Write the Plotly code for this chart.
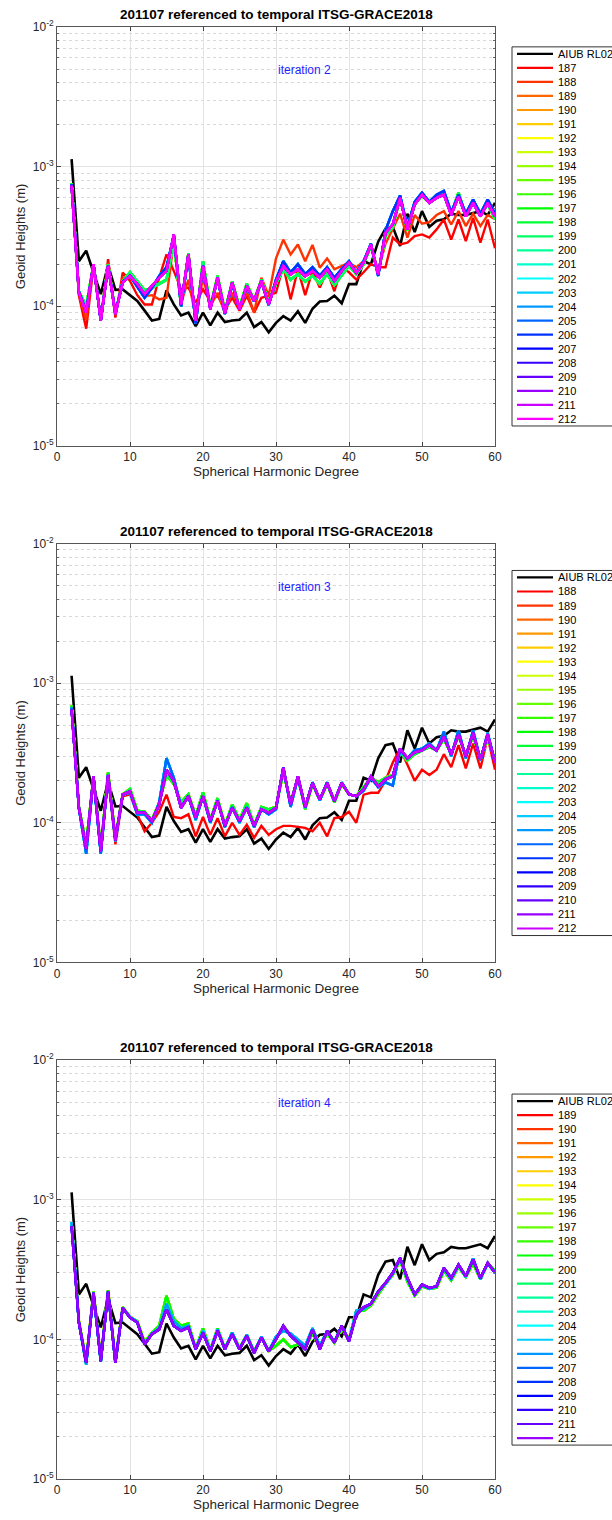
import colorsys
import plotly.graph_objects as go

# ---------------- data ----------------
DEGREES = list(range(2, 61))

AIUB_RL02 = [1.13e-3, 2.1e-4, 2.5e-4, 1.75e-4, 1.22e-4, 1.97e-4, 1.31e-4, 1.32e-4, 1.19e-4, 1.09e-4,
             9.3e-5, 7.9e-5, 8.1e-5, 1.3e-4, 1.03e-4, 8.6e-5, 9.0e-5, 7.2e-5, 9.0e-5, 7.3e-5,
             9.0e-5, 7.7e-5, 7.9e-5, 8.0e-5, 9.0e-5, 7.1e-5, 7.7e-5, 6.5e-5, 7.6e-5, 8.5e-5,
             7.9e-5, 9.2e-5, 7.6e-5, 9.6e-5, 1.08e-4, 1.09e-4, 1.19e-4, 1.05e-4, 1.44e-4, 1.44e-4,
             2.1e-4, 2.0e-4, 2.9e-4, 3.6e-4, 3.7e-4, 2.7e-4, 4.6e-4, 3.4e-4, 4.8e-4, 3.7e-4,
             4.1e-4, 4.2e-4, 4.6e-4, 4.5e-4, 4.5e-4, 4.65e-4, 4.8e-4, 4.5e-4, 5.5e-4]

# iteration 2 panel
IT2_S187 = [7.2e-4, 1.19e-4, 6.9e-5, 1.94e-4, 7.9e-5, 2.17e-4, 8.3e-5, 1.74e-4, 1.52e-4, 1.2e-4,
            1.03e-4, 1.03e-4, 1.6e-4, 2.35e-4, 1.79e-4, 1.32e-4, 1.36e-4, 1.06e-4, 1.32e-4, 1.09e-4,
            1.19e-4, 9.5e-5, 1.15e-4, 9.3e-5, 1.19e-4, 9.0e-5, 1.15e-4, 1.19e-4, 1.25e-4, 1.94e-4,
            1.12e-4, 1.84e-4, 1.2e-4, 1.79e-4, 1.36e-4, 1.79e-4, 1.28e-4, 1.89e-4, 1.75e-4, 1.55e-4,
            1.75e-4, 2.0e-4, 1.9e-4, 1.9e-4, 3.1e-4, 2.77e-4, 2.85e-4, 3.18e-4, 3.27e-4, 3.1e-4,
            3.55e-4, 4.18e-4, 3.0e-4, 4.18e-4, 2.93e-4, 4.3e-4, 2.85e-4, 4.18e-4, 2.6e-4]
IT2_S188 = [7.3e-4, 1.22e-4, 8.0e-5, 1.97e-4, 8.0e-5, 2.05e-4, 8.6e-5, 1.6e-4, 1.6e-4, 1.42e-4,
            1.18e-4, 1.2e-4, 1.12e-4, 1.15e-4, 2.9e-4, 1.05e-4, 1.55e-4, 8.3e-5, 1.6e-4, 1.0e-4,
            1.25e-4, 8.9e-5, 1.25e-4, 9.5e-5, 1.28e-4, 9.0e-5, 1.6e-4, 1.19e-4, 2.2e-4, 3.0e-4,
            2.35e-4, 2.77e-4, 2.1e-4, 2.75e-4, 1.89e-4, 2.2e-4, 1.84e-4, 1.94e-4, 2.05e-4, 1.9e-4,
            2.1e-4, 2.7e-4, 1.8e-4, 2.8e-4, 3.6e-4, 4.6e-4, 3.1e-4, 4.5e-4, 3.9e-4, 4.0e-4,
            4.5e-4, 4.8e-4, 3.85e-4, 4.8e-4, 3.75e-4, 4.6e-4, 3.75e-4, 4.5e-4, 4.2e-4]
IT2_WARM = [7.6e-4, 1.28e-4, 1.0e-4, 2.0e-4, 8.0e-5, 2.0e-4, 9.0e-5, 1.5e-4, 1.75e-4, 1.5e-4,
            1.3e-4, 1.35e-4, 1.45e-4, 1.55e-4, 2.9e-4, 1.0e-4, 2.4e-4, 7.6e-5, 2.1e-4, 9.8e-5,
            1.65e-4, 9.2e-5, 1.5e-4, 9.8e-5, 1.45e-4, 1.1e-4, 1.55e-4, 1.05e-4, 1.45e-4, 1.85e-4,
            1.55e-4, 1.7e-4, 1.5e-4, 1.65e-4, 1.45e-4, 1.7e-4, 1.42e-4, 1.65e-4, 1.95e-4, 1.7e-4,
            2.0e-4, 2.7e-4, 1.7e-4, 3.2e-4, 3.7e-4, 6.0e-4, 3.5e-4, 5.4e-4, 6.2e-4, 5.5e-4,
            6.2e-4, 6.4e-4, 4.6e-4, 6.5e-4, 4.5e-4, 5.6e-4, 4.5e-4, 5.4e-4, 4.2e-4]
IT2_COOL = [7.5e-4, 1.27e-4, 9.2e-5, 2.0e-4, 7.9e-5, 1.95e-4, 8.9e-5, 1.5e-4, 1.65e-4, 1.38e-4,
            1.15e-4, 1.35e-4, 1.65e-4, 1.9e-4, 3.2e-4, 1.0e-4, 2.3e-4, 7.5e-5, 1.95e-4, 9.7e-5,
            1.58e-4, 8.8e-5, 1.45e-4, 9.5e-5, 1.38e-4, 1.08e-4, 1.5e-4, 1.02e-4, 1.55e-4, 2.1e-4,
            1.75e-4, 2.0e-4, 1.7e-4, 1.9e-4, 1.65e-4, 1.9e-4, 1.6e-4, 1.85e-4, 2.1e-4, 1.75e-4,
            2.1e-4, 2.8e-4, 1.65e-4, 3.5e-4, 4.8e-4, 6.2e-4, 3.7e-4, 5.6e-4, 6.5e-4, 5.6e-4,
            6.3e-4, 6.7e-4, 4.7e-4, 6.3e-4, 4.6e-4, 5.8e-4, 4.6e-4, 5.8e-4, 4.6e-4]
IT2_VIOLET = [7.3e-4, 1.25e-4, 9.0e-5, 2.0e-4, 7.9e-5, 1.94e-4, 8.8e-5, 1.48e-4, 1.65e-4, 1.44e-4,
              1.22e-4, 1.4e-4, 1.6e-4, 1.79e-4, 3.27e-4, 1.03e-4, 2.35e-4, 7.9e-5, 1.94e-4, 9.5e-5,
              1.6e-4, 8.9e-5, 1.48e-4, 9.5e-5, 1.4e-4, 1.09e-4, 1.52e-4, 1.03e-4, 1.5e-4, 1.94e-4,
              1.69e-4, 1.84e-4, 1.64e-4, 1.79e-4, 1.6e-4, 1.84e-4, 1.52e-4, 1.79e-4, 2.05e-4, 1.74e-4,
              2.05e-4, 2.77e-4, 1.69e-4, 3.36e-4, 3.86e-4, 5.97e-4, 3.55e-4, 5.36e-4, 6.3e-4, 5.5e-4,
              5.97e-4, 6.3e-4, 4.5e-4, 6.1e-4, 4.4e-4, 5.5e-4, 4.4e-4, 5.5e-4, 4.4e-4]

# iteration 3 panel
IT3_S188 = [6.6e-4, 1.25e-4, 7.0e-5, 2.1e-4, 6.5e-5, 2.15e-4, 7.0e-5, 1.55e-4, 1.6e-4, 1.15e-4,
            8.7e-5, 1.0e-4, 1.2e-4, 1.59e-4, 1.1e-4, 1.08e-4, 1.15e-4, 8.0e-5, 1.1e-4, 8.2e-5,
            1.08e-4, 8.0e-5, 1.0e-4, 8.2e-5, 9.7e-5, 7.8e-5, 9.5e-5, 8.2e-5, 9.0e-5, 9.5e-5,
            9.5e-5, 9.3e-5, 9.2e-5, 8.7e-5, 1.0e-4, 8.0e-5, 1.08e-4, 1.1e-4, 1.2e-4, 1.0e-4,
            1.59e-4, 1.64e-4, 1.64e-4, 2.0e-4, 2.7e-4, 3.4e-4, 2.6e-4, 2.0e-4, 2.4e-4, 2.2e-4,
            2.4e-4, 3.1e-4, 2.5e-4, 3.6e-4, 2.45e-4, 3.7e-4, 2.45e-4, 4.1e-4, 2.4e-4]
IT3_WARM = [6.9e-4, 1.3e-4, 7.0e-5, 2.15e-4, 6.5e-5, 2.3e-4, 7.8e-5, 1.6e-4, 1.75e-4, 1.22e-4,
            1.2e-4, 1.05e-4, 1.4e-4, 2.2e-4, 1.9e-4, 1.4e-4, 1.6e-4, 1.12e-4, 1.65e-4, 1.05e-4,
            1.5e-4, 9.6e-5, 1.35e-4, 1.05e-4, 1.38e-4, 9.6e-5, 1.3e-4, 1.25e-4, 1.3e-4, 2.3e-4,
            1.4e-4, 2.1e-4, 1.25e-4, 1.9e-4, 1.45e-4, 1.9e-4, 1.4e-4, 1.9e-4, 1.6e-4, 1.55e-4,
            1.8e-4, 2.1e-4, 1.95e-4, 2.1e-4, 2.2e-4, 3.2e-4, 2.8e-4, 3.1e-4, 3.3e-4, 3.5e-4,
            3.3e-4, 4.0e-4, 3.1e-4, 4.2e-4, 3.05e-4, 4.2e-4, 2.9e-4, 4.1e-4, 2.8e-4]
IT3_COOL = [6.7e-4, 1.27e-4, 6.0e-5, 2.1e-4, 6.0e-5, 2.2e-4, 7.4e-5, 1.58e-4, 1.65e-4, 1.15e-4,
            1.15e-4, 1.0e-4, 1.4e-4, 2.9e-4, 2.1e-4, 1.3e-4, 1.55e-4, 1.05e-4, 1.55e-4, 1.0e-4,
            1.45e-4, 9.3e-5, 1.3e-4, 1.0e-4, 1.3e-4, 9.3e-5, 1.25e-4, 1.15e-4, 1.25e-4, 2.5e-4,
            1.3e-4, 2.1e-4, 1.28e-4, 1.95e-4, 1.45e-4, 1.95e-4, 1.42e-4, 1.95e-4, 1.6e-4, 1.55e-4,
            1.7e-4, 2.1e-4, 1.8e-4, 1.95e-4, 1.85e-4, 3.3e-4, 2.9e-4, 3.3e-4, 3.4e-4, 3.7e-4,
            3.3e-4, 4.5e-4, 3.0e-4, 4.6e-4, 2.9e-4, 4.6e-4, 2.8e-4, 4.4e-4, 2.7e-4]
IT3_VIOLET = [6.45e-4, 1.28e-4, 6.5e-5, 2.15e-4, 6.2e-5, 2.2e-4, 7.5e-5, 1.59e-4, 1.68e-4, 1.18e-4,
              1.18e-4, 1.03e-4, 1.35e-4, 2.4e-4, 1.99e-4, 1.28e-4, 1.55e-4, 1.09e-4, 1.55e-4, 1.03e-4,
              1.43e-4, 9.5e-5, 1.28e-4, 1.03e-4, 1.28e-4, 9.5e-5, 1.25e-4, 1.18e-4, 1.28e-4, 2.47e-4,
              1.35e-4, 2.15e-4, 1.3e-4, 1.93e-4, 1.47e-4, 1.93e-4, 1.43e-4, 1.93e-4, 1.6e-4, 1.55e-4,
              1.73e-4, 2.15e-4, 1.83e-4, 2.05e-4, 2.15e-4, 3.4e-4, 2.9e-4, 3.2e-4, 3.3e-4, 3.6e-4,
              3.3e-4, 4.15e-4, 3.08e-4, 4.3e-4, 3.0e-4, 4.4e-4, 2.83e-4, 4.3e-4, 2.7e-4]

# iteration 4 panel
IT4_WARM = [6.8e-4, 1.35e-4, 7.0e-5, 2.2e-4, 7.2e-5, 2.25e-4, 7.0e-5, 1.7e-4, 1.45e-4, 1.35e-4,
            9.5e-5, 1.12e-4, 1.25e-4, 2.05e-4, 1.4e-4, 1.25e-4, 1.3e-4, 8.6e-5, 1.2e-4, 8.4e-5,
            1.2e-4, 8.6e-5, 1.12e-4, 8.6e-5, 1.08e-4, 8.2e-5, 1.05e-4, 8.3e-5, 9.0e-5, 1.0e-4,
            8.8e-5, 9.2e-5, 8.8e-5, 1.1e-4, 8.8e-5, 1.1e-4, 9.5e-5, 1.2e-4, 1.0e-4, 1.6e-4,
            1.6e-4, 1.75e-4, 2.1e-4, 2.5e-4, 2.9e-4, 3.7e-4, 2.6e-4, 2.05e-4, 2.4e-4, 2.3e-4,
            2.35e-4, 3.1e-4, 2.65e-4, 3.3e-4, 2.8e-4, 3.5e-4, 2.7e-4, 3.5e-4, 3.1e-4]
IT4_COOL = [6.9e-4, 1.32e-4, 6.6e-5, 2.15e-4, 6.9e-5, 2.2e-4, 6.8e-5, 1.68e-4, 1.45e-4, 1.33e-4,
            9.2e-5, 1.1e-4, 1.2e-4, 1.8e-4, 1.35e-4, 1.2e-4, 1.25e-4, 8.5e-5, 1.15e-4, 8.3e-5,
            1.18e-4, 8.5e-5, 1.12e-4, 8.5e-5, 1.08e-4, 8.1e-5, 1.05e-4, 8.2e-5, 1.05e-4, 1.15e-4,
            1.1e-4, 1.0e-4, 9.0e-5, 1.2e-4, 9.0e-5, 1.15e-4, 9.6e-5, 1.25e-4, 9.8e-5, 1.6e-4,
            1.65e-4, 1.8e-4, 2.2e-4, 2.5e-4, 2.95e-4, 3.8e-4, 2.7e-4, 2.1e-4, 2.45e-4, 2.3e-4,
            2.4e-4, 3.2e-4, 2.7e-4, 3.4e-4, 2.8e-4, 3.8e-4, 2.7e-4, 3.5e-4, 3.0e-4]
IT4_VIOLET = [6.45e-4, 1.32e-4, 6.8e-5, 2.15e-4, 7.0e-5, 2.2e-4, 6.8e-5, 1.68e-4, 1.43e-4, 1.32e-4,
              9.2e-5, 1.09e-4, 1.18e-4, 1.64e-4, 1.25e-4, 1.15e-4, 1.22e-4, 8.5e-5, 1.11e-4, 8.2e-5,
              1.15e-4, 8.5e-5, 1.09e-4, 8.5e-5, 1.06e-4, 8.0e-5, 1.03e-4, 8.2e-5, 1.0e-4, 1.25e-4,
              1.06e-4, 9.5e-5, 8.5e-5, 1.18e-4, 8.5e-5, 1.15e-4, 9.5e-5, 1.25e-4, 9.7e-5, 1.5e-4,
              1.7e-4, 1.8e-4, 2.2e-4, 2.54e-4, 3.0e-4, 3.83e-4, 2.75e-4, 2.1e-4, 2.47e-4, 2.34e-4,
              2.4e-4, 3.25e-4, 2.75e-4, 3.43e-4, 2.83e-4, 3.73e-4, 2.75e-4, 3.53e-4, 3.0e-4]

TITLE = "201107 referenced to temporal ITSG-GRACE2018"
ITERATION_LABELS = ["iteration 2", "iteration 3", "iteration 4"]
SOLUTIONS = [list(range(187, 213)), list(range(188, 213)), list(range(189, 213))]
REF_NAME = "AIUB RL02"

PANEL_SERIES = [
    {187: IT2_S187, 188: IT2_S188, "warm": IT2_WARM, "cool": IT2_COOL, "violet": IT2_VIOLET},
    {188: IT3_S188, "warm": IT3_WARM, "cool": IT3_COOL, "violet": IT3_VIOLET},
    {"warm": IT4_WARM, "cool": IT4_COOL, "violet": IT4_VIOLET},
]


def series_for(panel, sol):
    d = PANEL_SERIES[panel]
    if sol in d:
        return d[sol]
    if sol <= 199:
        return d["warm"]
    if sol <= 206:
        return d["cool"]
    return d["violet"]


def hsv_color(i):
    r, g, b = colorsys.hsv_to_rgb((12.0 * i / 360.0) % 1.0, 1.0, 1.0)
    return "rgb(%d,%d,%d)" % (round(r * 255), round(g * 255), round(b * 255))


# ---------------- layout geometry ----------------
W, H = 612, 1520
AX_L, AX_R = 57, 495          # plot area, in page pixels
AX_TOPS = [27, 545, 1063]
AX_H = 420
ML = AX_L
MT = AX_TOPS[0]
PW = AX_R - AX_L
PH = AX_TOPS[2] + AX_H - AX_TOPS[0]
MR = W - ML - PW
MB = H - MT - PH


def px_x(px):
    return (px - AX_L) / PW


def px_y(py):
    return (AX_TOPS[2] + AX_H - py) / PH


FONT = "Liberation Sans, Arial, Helvetica, sans-serif"
TXT = "#262626"

fig = go.Figure()
shapes = []
annotations = []

minor_vals = []
for e in (-5, -4, -3):
    for m in range(2, 10):
        minor_vals.append(m * 10 ** e)

for p in range(3):
    xa = "x" if p == 0 else "x%d" % (p + 1)
    ya = "y" if p == 0 else "y%d" % (p + 1)
    xkey = "xaxis" if p == 0 else "xaxis%d" % (p + 1)
    ykey = "yaxis" if p == 0 else "yaxis%d" % (p + 1)

    fig.add_trace(go.Scatter(x=DEGREES, y=AIUB_RL02, mode="lines", name=REF_NAME,
                             line=dict(color="black", width=2.6), xaxis=xa, yaxis=ya,
                             showlegend=False))
    for i, sol in enumerate(SOLUTIONS[p]):
        fig.add_trace(go.Scatter(x=DEGREES, y=series_for(p, sol), mode="lines", name=str(sol),
                                 line=dict(color=hsv_color(i), width=2.4), xaxis=xa, yaxis=ya,
                                 showlegend=False))

    top = AX_TOPS[p]
    dom = [px_y(top + AX_H), px_y(top)]
    fig.update_layout(**{
        xkey: dict(domain=[0, 1], anchor=ya, range=[0, 60], tickvals=[0, 10, 20, 30, 40, 50, 60],
                   ticks="inside", ticklen=4, tickcolor="#444", mirror="allticks", showline=True,
                   linecolor="#555", linewidth=1, showgrid=True, gridcolor="#e3e3e3", zeroline=False,
                   tickfont=dict(family=FONT, size=12, color=TXT),
                   title=dict(text="Spherical Harmonic Degree", standoff=1,
                              font=dict(family=FONT, size=13.5, color=TXT))),
        ykey: dict(domain=dom, anchor=xa, type="log", range=[-5, -2],
                   tickvals=[1e-5, 1e-4, 1e-3, 1e-2],
                   ticktext=["10<sup>-5</sup>", "10<sup>-4</sup>", "10<sup>-3</sup>", "10<sup>-2</sup>"],
                   ticks="inside", ticklen=4, tickcolor="#444", mirror="allticks", showline=True,
                   linecolor="#555", linewidth=1, showgrid=True, gridcolor="#e3e3e3", zeroline=False,
                   tickfont=dict(family=FONT, size=12, color=TXT),
                   minor=dict(tickvals=minor_vals, ticks="inside", ticklen=2, tickcolor="#666",
                              showgrid=True, gridcolor="#d8d8d8", griddash="dot"),
                   title=dict(text="Geoid Heights (m)", standoff=4,
                              font=dict(family=FONT, size=13, color=TXT))),
    })

    annotations.append(dict(text="<b>%s</b>" % TITLE, xref="paper", yref="paper",
                            x=px_x((AX_L + AX_R) / 2), y=px_y(top - 3), xanchor="center",
                            yanchor="bottom", showarrow=False,
                            font=dict(family=FONT, size=13.5, color="black")))
    annotations.append(dict(text=ITERATION_LABELS[p], xref=xa, yref=ya, x=30, y=-2.31,
                            xanchor="left", yanchor="middle", showarrow=False,
                            font=dict(family=FONT, size=12, color="#1f1fff")))

    # compact MATLAB-style legend
    names = [REF_NAME] + [str(s) for s in SOLUTIONS[p]]
    colors = ["black"] + [hsv_color(i) for i in range(len(SOLUTIONS[p]))]
    step = 14.08
    lh = len(names) * step
    ltop = top + AX_H / 2 - lh / 2
    shapes.append(dict(type="rect", xref="paper", yref="paper",
                       x0=px_x(512), x1=px_x(650), y0=px_y(ltop), y1=px_y(ltop + lh),
                       line=dict(color="#333", width=1), fillcolor="white", layer="above"))
    for k, (nm, col) in enumerate(zip(names, colors)):
        cy = ltop + 7 + step * k
        shapes.append(dict(type="line", xref="paper", yref="paper",
                           x0=px_x(517), x1=px_x(553), y0=px_y(cy), y1=px_y(cy),
                           line=dict(color=col, width=2.2), layer="above"))
        annotations.append(dict(text=nm, xref="paper", yref="paper", x=px_x(556), y=px_y(cy),
                                xanchor="left", yanchor="middle", showarrow=False,
                                font=dict(family=FONT, size=11, color="black")))

fig.update_layout(width=W, height=H, margin=dict(l=ML, r=MR, t=MT, b=MB),
                  paper_bgcolor="white", plot_bgcolor="white", showlegend=False,
                  shapes=shapes, annotations=annotations,
                  font=dict(family=FONT, size=12, color=TXT))

# remove the default 8px page margin so the figure fills the 612x1520 window exactly
fig.write_html("out.html", config={"displayModeBar": False},
               post_script="document.body.style.margin='0';document.body.style.overflow='hidden';")
